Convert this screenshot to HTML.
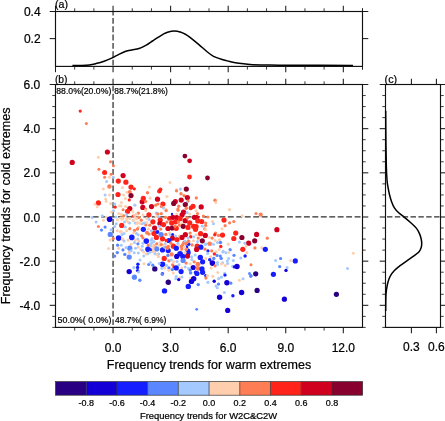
<!DOCTYPE html>
<html><head><meta charset="utf-8"><style>
html,body{margin:0;padding:0;background:#fff;}
svg{display:block;filter:blur(0.3px);}
text{font-family:"Liberation Sans",sans-serif;fill:#000;stroke:#000;stroke-width:0.22px;}
</style></head><body>
<svg width="445" height="421" viewBox="0 0 445 421">
<rect width="445" height="421" fill="#fff"/>
<line x1="113.06" y1="11.50" x2="113.06" y2="66.40" stroke="#2e2e2e" stroke-width="1.25" stroke-dasharray="5.9 2.45" stroke-dashoffset="1.95"/>
<line x1="113.06" y1="84.50" x2="113.06" y2="327.40" stroke="#2e2e2e" stroke-width="1.25" stroke-dasharray="5.9 2.45" stroke-dashoffset="-0.9"/>
<line x1="55.50" y1="216.99" x2="362.50" y2="216.99" stroke="#2e2e2e" stroke-width="1.25" stroke-dasharray="5.9 2.55" stroke-dashoffset="5.08"/>
<line x1="385.50" y1="216.99" x2="440.50" y2="216.99" stroke="#2e2e2e" stroke-width="1.25" stroke-dasharray="5.4 2.45" stroke-dashoffset="-1.5"/>
<circle cx="80.2" cy="111.1" r="1.60" fill="#ff2319"/>
<circle cx="86.4" cy="123.5" r="1.50" fill="#ff7d55"/>
<circle cx="107.4" cy="152.0" r="2.60" fill="#d0001f"/>
<circle cx="184.9" cy="156.1" r="2.40" fill="#88002d"/>
<circle cx="189.6" cy="160.8" r="2.40" fill="#d0001f"/>
<circle cx="189.5" cy="177.0" r="2.40" fill="#ff2319"/>
<circle cx="207.5" cy="178.0" r="2.40" fill="#88002d"/>
<circle cx="170.0" cy="182.4" r="1.50" fill="#ffcfad"/>
<circle cx="98.4" cy="157.3" r="1.50" fill="#ffcfad"/>
<circle cx="110.5" cy="161.8" r="1.50" fill="#ff7d55"/>
<circle cx="113.5" cy="165.7" r="1.50" fill="#ff7d55"/>
<circle cx="98.9" cy="169.3" r="1.50" fill="#ff7d55"/>
<circle cx="104.6" cy="172.5" r="2.50" fill="#ff2319"/>
<circle cx="111.1" cy="174.2" r="1.50" fill="#ff7d55"/>
<circle cx="104.6" cy="177.2" r="1.50" fill="#ff7d55"/>
<circle cx="109.4" cy="177.3" r="1.50" fill="#ffcfad"/>
<circle cx="113.3" cy="177.2" r="1.50" fill="#a3c9ff"/>
<circle cx="123.1" cy="175.6" r="2.60" fill="#d0001f"/>
<circle cx="106.6" cy="181.5" r="1.50" fill="#a3c9ff"/>
<circle cx="118.3" cy="181.1" r="2.60" fill="#ff2319"/>
<circle cx="125.9" cy="182.2" r="2.60" fill="#ff2319"/>
<circle cx="109.4" cy="186.5" r="2.20" fill="#ff7d55"/>
<circle cx="122.5" cy="187.6" r="1.50" fill="#ffcfad"/>
<circle cx="131.0" cy="187.1" r="2.60" fill="#ff2319"/>
<circle cx="134.3" cy="188.8" r="1.60" fill="#ff2319"/>
<circle cx="103.4" cy="189.1" r="1.50" fill="#ffcfad"/>
<circle cx="72.2" cy="162.4" r="2.60" fill="#d0001f"/>
<circle cx="149.3" cy="187.1" r="1.50" fill="#ffcfad"/>
<circle cx="160.4" cy="189.6" r="2.00" fill="#ff2319"/>
<circle cx="176.5" cy="189.6" r="1.30" fill="#ffcfad"/>
<circle cx="180.4" cy="189.1" r="1.60" fill="#a3c9ff"/>
<circle cx="186.3" cy="189.1" r="2.60" fill="#88002d"/>
<circle cx="105.1" cy="195.1" r="1.50" fill="#a3c9ff"/>
<circle cx="109.4" cy="195.1" r="1.50" fill="#ffcfad"/>
<circle cx="118.0" cy="194.5" r="2.60" fill="#ff2319"/>
<circle cx="127.0" cy="192.2" r="1.50" fill="#ffcfad"/>
<circle cx="129.8" cy="192.0" r="2.00" fill="#ff7d55"/>
<circle cx="131.0" cy="195.6" r="2.60" fill="#88002d"/>
<circle cx="123.7" cy="195.1" r="1.50" fill="#ffcfad"/>
<circle cx="125.3" cy="198.4" r="1.50" fill="#ffcfad"/>
<circle cx="129.3" cy="199.9" r="1.60" fill="#ff2319"/>
<circle cx="105.7" cy="199.0" r="1.50" fill="#ffcfad"/>
<circle cx="106.2" cy="201.2" r="1.50" fill="#ffcfad"/>
<circle cx="98.4" cy="202.9" r="2.60" fill="#ff2319"/>
<circle cx="110.7" cy="203.5" r="1.50" fill="#ffcfad"/>
<circle cx="114.7" cy="204.0" r="1.50" fill="#a3c9ff"/>
<circle cx="121.4" cy="202.4" r="1.50" fill="#ffcfad"/>
<circle cx="119.7" cy="205.7" r="1.50" fill="#ffcfad"/>
<circle cx="115.2" cy="207.1" r="1.60" fill="#ff2319"/>
<circle cx="97.2" cy="206.9" r="1.40" fill="#ffcfad"/>
<circle cx="134.9" cy="205.2" r="1.60" fill="#a3c9ff"/>
<circle cx="129.8" cy="208.5" r="2.60" fill="#d0001f"/>
<circle cx="127.6" cy="211.3" r="2.60" fill="#ff2319"/>
<circle cx="142.2" cy="201.8" r="2.60" fill="#d0001f"/>
<circle cx="142.8" cy="207.4" r="2.60" fill="#d0001f"/>
<circle cx="143.3" cy="198.4" r="2.60" fill="#ff2319"/>
<circle cx="123.1" cy="209.7" r="1.50" fill="#ff7d55"/>
<circle cx="113.5" cy="210.8" r="1.50" fill="#a3c9ff"/>
<circle cx="118.6" cy="213.6" r="1.50" fill="#ffcfad"/>
<circle cx="122.5" cy="215.3" r="1.50" fill="#ffcfad"/>
<circle cx="123.7" cy="215.8" r="1.50" fill="#ff7d55"/>
<circle cx="133.2" cy="216.1" r="1.60" fill="#ff2319"/>
<circle cx="137.7" cy="213.6" r="1.50" fill="#a3c9ff"/>
<circle cx="135.4" cy="217.5" r="1.50" fill="#ffcfad"/>
<circle cx="138.8" cy="217.0" r="1.50" fill="#ffcfad"/>
<circle cx="102.3" cy="215.8" r="1.50" fill="#a3c9ff"/>
<circle cx="106.2" cy="217.0" r="1.50" fill="#ffcfad"/>
<circle cx="109.6" cy="219.2" r="2.80" fill="#1400d6"/>
<circle cx="115.8" cy="217.0" r="1.50" fill="#a3c9ff"/>
<circle cx="117.5" cy="219.8" r="1.50" fill="#ffcfad"/>
<circle cx="122.0" cy="219.2" r="1.50" fill="#ffcfad"/>
<circle cx="126.5" cy="219.8" r="1.50" fill="#ffcfad"/>
<circle cx="103.4" cy="220.3" r="1.50" fill="#ffcfad"/>
<circle cx="96.1" cy="222.0" r="1.50" fill="#a3c9ff"/>
<circle cx="128.7" cy="222.6" r="1.50" fill="#ffcfad"/>
<circle cx="133.2" cy="220.3" r="1.50" fill="#a3c9ff"/>
<circle cx="137.7" cy="222.6" r="1.50" fill="#ffcfad"/>
<circle cx="121.7" cy="225.4" r="2.60" fill="#ff2319"/>
<circle cx="116.3" cy="223.7" r="1.50" fill="#a3c9ff"/>
<circle cx="114.7" cy="226.5" r="1.50" fill="#a3c9ff"/>
<circle cx="98.4" cy="226.5" r="1.50" fill="#ff7d55"/>
<circle cx="105.1" cy="227.1" r="1.60" fill="#5a87ff"/>
<circle cx="125.3" cy="227.1" r="1.50" fill="#a3c9ff"/>
<circle cx="138.3" cy="227.1" r="1.50" fill="#ffcfad"/>
<circle cx="143.3" cy="229.3" r="2.60" fill="#141eff"/>
<circle cx="142.2" cy="223.7" r="1.50" fill="#a3c9ff"/>
<circle cx="95.0" cy="204.3" r="1.40" fill="#ffcfad"/>
<circle cx="92.2" cy="217.6" r="1.50" fill="#a3c9ff"/>
<circle cx="159.3" cy="191.3" r="2.20" fill="#ff2319"/>
<circle cx="147.5" cy="192.8" r="1.70" fill="#ff7d55"/>
<circle cx="166.9" cy="196.5" r="1.60" fill="#ffcfad"/>
<circle cx="150.1" cy="198.1" r="1.60" fill="#ffcfad"/>
<circle cx="157.5" cy="199.2" r="2.60" fill="#d0001f"/>
<circle cx="145.8" cy="201.5" r="1.60" fill="#ff7d55"/>
<circle cx="162.9" cy="204.0" r="2.60" fill="#ff2319"/>
<circle cx="157.9" cy="204.0" r="1.60" fill="#ff7d55"/>
<circle cx="155.7" cy="205.2" r="1.60" fill="#ff7d55"/>
<circle cx="151.5" cy="206.6" r="2.60" fill="#d0001f"/>
<circle cx="163.5" cy="207.9" r="1.60" fill="#a3c9ff"/>
<circle cx="161.3" cy="206.6" r="1.50" fill="#ff7d55"/>
<circle cx="166.1" cy="209.4" r="1.50" fill="#ffcfad"/>
<circle cx="145.6" cy="209.1" r="1.50" fill="#ff7d55"/>
<circle cx="176.5" cy="190.8" r="1.60" fill="#ff7d55"/>
<circle cx="181.0" cy="193.8" r="1.70" fill="#ff7d55"/>
<circle cx="184.0" cy="195.6" r="1.60" fill="#ff7d55"/>
<circle cx="187.4" cy="197.6" r="2.60" fill="#d0001f"/>
<circle cx="181.2" cy="200.1" r="2.60" fill="#d0001f"/>
<circle cx="175.3" cy="201.5" r="2.60" fill="#d0001f"/>
<circle cx="173.7" cy="203.4" r="2.60" fill="#88002d"/>
<circle cx="188.0" cy="201.0" r="1.60" fill="#ff7d55"/>
<circle cx="186.9" cy="202.6" r="1.50" fill="#a3c9ff"/>
<circle cx="185.3" cy="204.6" r="2.60" fill="#88002d"/>
<circle cx="178.7" cy="206.3" r="1.70" fill="#ff7d55"/>
<circle cx="177.9" cy="209.1" r="1.60" fill="#ff7d55"/>
<circle cx="186.3" cy="208.3" r="1.70" fill="#ff7d55"/>
<circle cx="193.0" cy="206.3" r="2.60" fill="#ff2319"/>
<circle cx="190.8" cy="208.0" r="2.20" fill="#ff2319"/>
<circle cx="145.6" cy="210.6" r="1.50" fill="#ffcfad"/>
<circle cx="166.1" cy="210.6" r="1.70" fill="#ff7d55"/>
<circle cx="148.9" cy="214.8" r="2.60" fill="#ff2319"/>
<circle cx="156.2" cy="213.1" r="1.50" fill="#a3c9ff"/>
<circle cx="157.8" cy="213.9" r="1.60" fill="#ff7d55"/>
<circle cx="161.3" cy="213.7" r="1.60" fill="#ff7d55"/>
<circle cx="156.0" cy="216.7" r="1.50" fill="#ffcfad"/>
<circle cx="158.5" cy="216.7" r="1.50" fill="#a3c9ff"/>
<circle cx="165.5" cy="217.3" r="1.60" fill="#ff7d55"/>
<circle cx="169.4" cy="218.4" r="2.40" fill="#ff2319"/>
<circle cx="148.9" cy="219.3" r="1.60" fill="#a3c9ff"/>
<circle cx="146.7" cy="218.4" r="1.50" fill="#ffcfad"/>
<circle cx="152.9" cy="221.8" r="2.60" fill="#ff2319"/>
<circle cx="160.2" cy="220.1" r="2.60" fill="#ff2319"/>
<circle cx="159.9" cy="223.5" r="2.60" fill="#d0001f"/>
<circle cx="163.5" cy="224.6" r="2.60" fill="#ff2319"/>
<circle cx="145.8" cy="224.9" r="1.60" fill="#ff7d55"/>
<circle cx="149.8" cy="225.2" r="1.60" fill="#ff7d55"/>
<circle cx="146.7" cy="222.4" r="1.50" fill="#ffcfad"/>
<circle cx="154.6" cy="228.0" r="2.60" fill="#d0001f"/>
<circle cx="159.3" cy="226.3" r="1.50" fill="#a3c9ff"/>
<circle cx="168.0" cy="228.5" r="2.60" fill="#d0001f"/>
<circle cx="166.9" cy="222.1" r="1.60" fill="#ff7d55"/>
<circle cx="148.4" cy="229.1" r="1.50" fill="#ffcfad"/>
<circle cx="160.7" cy="229.1" r="1.60" fill="#ff7d55"/>
<circle cx="178.1" cy="210.3" r="1.60" fill="#ff7d55"/>
<circle cx="172.0" cy="213.9" r="1.20" fill="#141eff"/>
<circle cx="176.7" cy="213.9" r="1.50" fill="#ffcfad"/>
<circle cx="183.5" cy="212.2" r="2.60" fill="#d0001f"/>
<circle cx="182.1" cy="214.8" r="2.60" fill="#d0001f"/>
<circle cx="187.1" cy="212.5" r="1.50" fill="#a3c9ff"/>
<circle cx="189.7" cy="213.9" r="1.50" fill="#ffcfad"/>
<circle cx="172.8" cy="217.3" r="2.60" fill="#d0001f"/>
<circle cx="176.7" cy="217.6" r="2.60" fill="#d0001f"/>
<circle cx="180.1" cy="218.7" r="2.60" fill="#ff2319"/>
<circle cx="185.2" cy="220.7" r="2.60" fill="#d0001f"/>
<circle cx="187.4" cy="217.9" r="1.60" fill="#ff7d55"/>
<circle cx="171.7" cy="222.9" r="2.60" fill="#ff2319"/>
<circle cx="175.6" cy="221.8" r="2.60" fill="#ff2319"/>
<circle cx="178.4" cy="222.1" r="1.70" fill="#ff7d55"/>
<circle cx="189.7" cy="222.9" r="2.60" fill="#ff2319"/>
<circle cx="181.8" cy="223.5" r="1.50" fill="#ffcfad"/>
<circle cx="183.2" cy="226.3" r="2.60" fill="#88002d"/>
<circle cx="172.2" cy="228.0" r="2.60" fill="#88002d"/>
<circle cx="176.2" cy="228.3" r="2.60" fill="#ff2319"/>
<circle cx="188.0" cy="227.4" r="2.60" fill="#ff2319"/>
<circle cx="175.1" cy="226.3" r="1.60" fill="#ff7d55"/>
<circle cx="193.6" cy="226.3" r="2.60" fill="#ff2319"/>
<circle cx="179.3" cy="225.2" r="1.60" fill="#ff7d55"/>
<circle cx="194.4" cy="217.3" r="2.60" fill="#d0001f"/>
<circle cx="196.3" cy="197.9" r="1.60" fill="#ff7d55"/>
<circle cx="215.0" cy="200.3" r="1.70" fill="#ff7d55"/>
<circle cx="215.8" cy="202.4" r="1.50" fill="#ffcfad"/>
<circle cx="201.2" cy="206.9" r="2.60" fill="#d0001f"/>
<circle cx="196.1" cy="210.8" r="1.50" fill="#ffcfad"/>
<circle cx="197.5" cy="213.6" r="1.60" fill="#ff7d55"/>
<circle cx="229.6" cy="209.7" r="1.60" fill="#ffcfad"/>
<circle cx="196.7" cy="217.5" r="2.60" fill="#d0001f"/>
<circle cx="203.4" cy="216.1" r="1.60" fill="#ff7d55"/>
<circle cx="207.9" cy="217.0" r="1.60" fill="#ff7d55"/>
<circle cx="224.0" cy="220.1" r="2.60" fill="#ff2319"/>
<circle cx="197.8" cy="220.9" r="2.60" fill="#ff2319"/>
<circle cx="201.7" cy="221.5" r="2.60" fill="#ff2319"/>
<circle cx="212.4" cy="221.5" r="1.50" fill="#ffcfad"/>
<circle cx="213.5" cy="223.7" r="1.50" fill="#a3c9ff"/>
<circle cx="229.6" cy="222.8" r="1.60" fill="#ff7d55"/>
<circle cx="233.8" cy="221.5" r="1.60" fill="#ff7d55"/>
<circle cx="205.7" cy="223.1" r="1.60" fill="#ff7d55"/>
<circle cx="205.7" cy="225.4" r="1.60" fill="#ff7d55"/>
<circle cx="202.3" cy="226.0" r="1.60" fill="#a3c9ff"/>
<circle cx="225.1" cy="225.7" r="1.60" fill="#ff7d55"/>
<circle cx="196.1" cy="226.5" r="2.60" fill="#ff2319"/>
<circle cx="242.2" cy="215.8" r="1.50" fill="#ffcfad"/>
<circle cx="222.0" cy="228.8" r="1.50" fill="#ffcfad"/>
<circle cx="204.6" cy="228.8" r="1.60" fill="#ff7d55"/>
<circle cx="256.0" cy="213.4" r="1.50" fill="#ff7d55"/>
<circle cx="260.7" cy="214.7" r="2.10" fill="#ff7d55"/>
<circle cx="295.3" cy="260.9" r="2.60" fill="#141eff"/>
<circle cx="290.7" cy="260.4" r="1.50" fill="#ffcfad"/>
<circle cx="353.3" cy="253.2" r="1.50" fill="#ffcfad"/>
<circle cx="347.5" cy="268.6" r="1.50" fill="#a3c9ff"/>
<circle cx="336.4" cy="294.3" r="2.60" fill="#2a0082"/>
<circle cx="276.9" cy="229.7" r="2.60" fill="#d0001f"/>
<circle cx="235.7" cy="233.1" r="2.60" fill="#ff2319"/>
<circle cx="233.8" cy="238.5" r="2.60" fill="#ff2319"/>
<circle cx="241.9" cy="237.5" r="2.60" fill="#88002d"/>
<circle cx="256.6" cy="234.4" r="2.60" fill="#d0001f"/>
<circle cx="267.3" cy="238.2" r="1.60" fill="#ff7d55"/>
<circle cx="254.7" cy="240.8" r="2.60" fill="#88002d"/>
<circle cx="248.6" cy="243.2" r="2.60" fill="#d0001f"/>
<circle cx="239.4" cy="241.9" r="1.50" fill="#a3c9ff"/>
<circle cx="244.8" cy="243.2" r="1.50" fill="#a3c9ff"/>
<circle cx="246.2" cy="245.9" r="1.50" fill="#ffcfad"/>
<circle cx="254.9" cy="247.9" r="1.60" fill="#ff7d55"/>
<circle cx="261.7" cy="247.7" r="1.50" fill="#ffcfad"/>
<circle cx="265.3" cy="249.3" r="2.60" fill="#141eff"/>
<circle cx="242.8" cy="249.3" r="2.60" fill="#ff2319"/>
<circle cx="230.7" cy="250.0" r="1.50" fill="#a3c9ff"/>
<circle cx="246.9" cy="252.6" r="1.50" fill="#ffcfad"/>
<circle cx="234.0" cy="255.3" r="1.60" fill="#5a87ff"/>
<circle cx="245.1" cy="256.0" r="1.70" fill="#141eff"/>
<circle cx="240.8" cy="258.0" r="1.50" fill="#a3c9ff"/>
<circle cx="280.6" cy="258.5" r="1.60" fill="#5a87ff"/>
<circle cx="275.6" cy="260.5" r="1.50" fill="#a3c9ff"/>
<circle cx="251.0" cy="264.8" r="1.50" fill="#ff7d55"/>
<circle cx="279.7" cy="266.6" r="1.60" fill="#5a87ff"/>
<circle cx="287.1" cy="267.5" r="1.50" fill="#a3c9ff"/>
<circle cx="286.0" cy="270.4" r="1.70" fill="#1400d6"/>
<circle cx="255.7" cy="273.8" r="2.60" fill="#2a0082"/>
<circle cx="251.0" cy="275.5" r="1.60" fill="#5a87ff"/>
<circle cx="273.4" cy="274.3" r="2.60" fill="#141eff"/>
<circle cx="257.1" cy="290.4" r="2.60" fill="#2a0082"/>
<circle cx="284.4" cy="299.2" r="2.60" fill="#1400d6"/>
<circle cx="101.5" cy="230.1" r="1.60" fill="#5a87ff"/>
<circle cx="110.2" cy="234.4" r="2.60" fill="#5a87ff"/>
<circle cx="113.3" cy="238.5" r="1.60" fill="#ff7d55"/>
<circle cx="110.2" cy="240.1" r="1.50" fill="#ffcfad"/>
<circle cx="118.6" cy="238.1" r="2.80" fill="#141eff"/>
<circle cx="122.6" cy="239.5" r="1.50" fill="#ffcfad"/>
<circle cx="117.3" cy="230.7" r="1.50" fill="#ffcfad"/>
<circle cx="120.6" cy="231.7" r="1.60" fill="#ffcfad"/>
<circle cx="122.0" cy="234.4" r="1.50" fill="#a3c9ff"/>
<circle cx="117.6" cy="245.2" r="1.60" fill="#5a87ff"/>
<circle cx="121.3" cy="245.2" r="1.50" fill="#a3c9ff"/>
<circle cx="108.5" cy="248.6" r="1.50" fill="#ffcfad"/>
<circle cx="118.6" cy="248.2" r="1.50" fill="#ffcfad"/>
<circle cx="123.0" cy="249.9" r="1.60" fill="#5a87ff"/>
<circle cx="111.2" cy="229.7" r="1.50" fill="#a3c9ff"/>
<circle cx="129.8" cy="228.7" r="1.60" fill="#ff7d55"/>
<circle cx="134.5" cy="230.4" r="1.70" fill="#ff7d55"/>
<circle cx="137.5" cy="229.0" r="1.70" fill="#ff7d55"/>
<circle cx="121.0" cy="231.7" r="1.60" fill="#ffcfad"/>
<circle cx="126.7" cy="230.7" r="1.50" fill="#ffcfad"/>
<circle cx="147.0" cy="232.7" r="2.00" fill="#ff7d55"/>
<circle cx="149.0" cy="234.1" r="1.70" fill="#ff7d55"/>
<circle cx="124.0" cy="233.4" r="1.50" fill="#a3c9ff"/>
<circle cx="133.8" cy="232.7" r="1.50" fill="#ffcfad"/>
<circle cx="136.5" cy="233.4" r="1.50" fill="#a3c9ff"/>
<circle cx="138.2" cy="234.7" r="1.50" fill="#a3c9ff"/>
<circle cx="131.8" cy="237.4" r="2.80" fill="#141eff"/>
<circle cx="141.6" cy="235.8" r="1.60" fill="#ff7d55"/>
<circle cx="142.9" cy="237.8" r="1.60" fill="#ff7d55"/>
<circle cx="122.7" cy="239.1" r="1.50" fill="#ffcfad"/>
<circle cx="128.1" cy="240.1" r="1.60" fill="#ffcfad"/>
<circle cx="124.0" cy="241.1" r="1.50" fill="#a3c9ff"/>
<circle cx="135.2" cy="240.1" r="1.50" fill="#ffcfad"/>
<circle cx="137.9" cy="239.1" r="1.50" fill="#a3c9ff"/>
<circle cx="138.9" cy="241.1" r="1.50" fill="#ffcfad"/>
<circle cx="146.3" cy="241.1" r="2.80" fill="#141eff"/>
<circle cx="134.5" cy="242.5" r="1.50" fill="#a3c9ff"/>
<circle cx="137.9" cy="243.8" r="1.60" fill="#5a87ff"/>
<circle cx="142.9" cy="243.2" r="1.50" fill="#a3c9ff"/>
<circle cx="131.1" cy="244.2" r="1.50" fill="#ffcfad"/>
<circle cx="148.3" cy="245.2" r="1.60" fill="#ff7d55"/>
<circle cx="129.8" cy="248.2" r="2.60" fill="#5a87ff"/>
<circle cx="126.1" cy="247.6" r="1.50" fill="#a3c9ff"/>
<circle cx="138.2" cy="247.2" r="1.50" fill="#ffcfad"/>
<circle cx="135.5" cy="248.2" r="1.50" fill="#a3c9ff"/>
<circle cx="148.0" cy="249.2" r="2.80" fill="#141eff"/>
<circle cx="142.3" cy="246.2" r="1.50" fill="#a3c9ff"/>
<circle cx="140.9" cy="249.6" r="1.50" fill="#ffcfad"/>
<circle cx="154.0" cy="233.4" r="2.60" fill="#ff2319"/>
<circle cx="157.4" cy="232.0" r="2.00" fill="#141eff"/>
<circle cx="161.1" cy="234.7" r="2.60" fill="#5a87ff"/>
<circle cx="165.8" cy="234.4" r="1.70" fill="#ff7d55"/>
<circle cx="156.4" cy="237.4" r="2.60" fill="#ff2319"/>
<circle cx="162.5" cy="238.8" r="2.60" fill="#ff2319"/>
<circle cx="169.6" cy="232.7" r="1.50" fill="#ffcfad"/>
<circle cx="170.2" cy="234.7" r="1.50" fill="#a3c9ff"/>
<circle cx="172.6" cy="234.4" r="1.50" fill="#141eff"/>
<circle cx="172.6" cy="238.1" r="2.60" fill="#d0001f"/>
<circle cx="177.0" cy="239.5" r="2.60" fill="#ff2319"/>
<circle cx="168.9" cy="240.5" r="2.60" fill="#141eff"/>
<circle cx="166.2" cy="240.5" r="1.70" fill="#ff2319"/>
<circle cx="151.3" cy="230.7" r="1.50" fill="#a3c9ff"/>
<circle cx="152.0" cy="238.8" r="1.50" fill="#a3c9ff"/>
<circle cx="152.7" cy="241.5" r="1.50" fill="#ffcfad"/>
<circle cx="156.7" cy="243.8" r="1.60" fill="#ff7d55"/>
<circle cx="160.1" cy="242.2" r="1.50" fill="#ffcfad"/>
<circle cx="162.1" cy="244.9" r="1.50" fill="#ffcfad"/>
<circle cx="165.2" cy="243.8" r="1.50" fill="#a3c9ff"/>
<circle cx="168.2" cy="246.5" r="1.80" fill="#ff7d55"/>
<circle cx="173.3" cy="246.2" r="2.60" fill="#ff2319"/>
<circle cx="170.9" cy="243.2" r="1.60" fill="#ff7d55"/>
<circle cx="176.3" cy="248.2" r="2.60" fill="#141eff"/>
<circle cx="156.7" cy="248.9" r="2.60" fill="#5a87ff"/>
<circle cx="162.5" cy="249.9" r="2.60" fill="#141eff"/>
<circle cx="168.2" cy="250.6" r="2.60" fill="#141eff"/>
<circle cx="150.7" cy="243.8" r="1.50" fill="#a3c9ff"/>
<circle cx="154.0" cy="245.9" r="1.60" fill="#ff7d55"/>
<circle cx="151.3" cy="249.6" r="1.60" fill="#141eff"/>
<circle cx="179.3" cy="236.1" r="1.50" fill="#ffcfad"/>
<circle cx="175.6" cy="236.1" r="1.50" fill="#a3c9ff"/>
<circle cx="195.5" cy="229.3" r="2.60" fill="#ff2319"/>
<circle cx="205.6" cy="229.7" r="1.60" fill="#ffcfad"/>
<circle cx="185.4" cy="234.7" r="2.60" fill="#d0001f"/>
<circle cx="182.0" cy="237.4" r="2.60" fill="#d0001f"/>
<circle cx="200.6" cy="233.7" r="2.60" fill="#ff2319"/>
<circle cx="205.3" cy="235.4" r="2.60" fill="#d0001f"/>
<circle cx="190.8" cy="236.8" r="1.80" fill="#ff2319"/>
<circle cx="193.8" cy="236.8" r="1.50" fill="#a3c9ff"/>
<circle cx="190.1" cy="233.1" r="1.60" fill="#ff7d55"/>
<circle cx="196.2" cy="234.7" r="1.50" fill="#ffcfad"/>
<circle cx="202.3" cy="240.8" r="2.60" fill="#88002d"/>
<circle cx="198.2" cy="238.1" r="1.60" fill="#ff7d55"/>
<circle cx="188.1" cy="238.1" r="1.50" fill="#a3c9ff"/>
<circle cx="193.5" cy="240.8" r="1.50" fill="#ffcfad"/>
<circle cx="184.0" cy="242.2" r="1.50" fill="#ffcfad"/>
<circle cx="186.1" cy="243.8" r="1.60" fill="#ff7d55"/>
<circle cx="189.4" cy="241.5" r="1.50" fill="#ffcfad"/>
<circle cx="197.5" cy="241.5" r="1.50" fill="#a3c9ff"/>
<circle cx="205.6" cy="244.2" r="1.80" fill="#a3c9ff"/>
<circle cx="208.7" cy="243.5" r="1.80" fill="#ffcfad"/>
<circle cx="188.8" cy="244.2" r="1.70" fill="#141eff"/>
<circle cx="186.7" cy="246.9" r="1.70" fill="#141eff"/>
<circle cx="182.0" cy="245.5" r="1.60" fill="#ff7d55"/>
<circle cx="197.2" cy="246.2" r="2.60" fill="#ff2319"/>
<circle cx="200.9" cy="247.2" r="2.60" fill="#141eff"/>
<circle cx="196.6" cy="249.4" r="2.60" fill="#d0001f"/>
<circle cx="192.1" cy="244.9" r="1.60" fill="#ff7d55"/>
<circle cx="181.3" cy="249.6" r="1.50" fill="#ffcfad"/>
<circle cx="188.4" cy="250.3" r="1.70" fill="#141eff"/>
<circle cx="186.1" cy="249.6" r="1.60" fill="#ff7d55"/>
<circle cx="205.0" cy="249.2" r="1.60" fill="#ff7d55"/>
<circle cx="208.0" cy="250.9" r="1.60" fill="#141eff"/>
<circle cx="215.5" cy="233.1" r="1.60" fill="#ff7d55"/>
<circle cx="214.8" cy="234.7" r="1.70" fill="#ff2319"/>
<circle cx="218.5" cy="235.4" r="1.70" fill="#ff7d55"/>
<circle cx="222.5" cy="235.1" r="2.60" fill="#ff2319"/>
<circle cx="212.1" cy="238.1" r="1.60" fill="#ff7d55"/>
<circle cx="209.7" cy="237.4" r="1.50" fill="#ffcfad"/>
<circle cx="215.1" cy="240.5" r="1.50" fill="#ffcfad"/>
<circle cx="219.5" cy="239.8" r="1.60" fill="#ffcfad"/>
<circle cx="209.7" cy="243.8" r="2.30" fill="#ff7d55"/>
<circle cx="217.5" cy="242.5" r="1.60" fill="#a3c9ff"/>
<circle cx="220.5" cy="242.5" r="1.70" fill="#5a87ff"/>
<circle cx="213.4" cy="244.2" r="1.50" fill="#a3c9ff"/>
<circle cx="220.8" cy="246.5" r="1.70" fill="#ff2319"/>
<circle cx="228.3" cy="244.2" r="1.60" fill="#ffcfad"/>
<circle cx="230.0" cy="249.6" r="1.50" fill="#5a87ff"/>
<circle cx="219.2" cy="249.6" r="1.50" fill="#ffcfad"/>
<circle cx="211.7" cy="250.9" r="1.60" fill="#ff7d55"/>
<circle cx="223.2" cy="251.3" r="1.50" fill="#a3c9ff"/>
<circle cx="117.3" cy="252.6" r="1.70" fill="#5a87ff"/>
<circle cx="114.6" cy="256.1" r="1.70" fill="#5a87ff"/>
<circle cx="124.8" cy="254.4" r="1.70" fill="#5a87ff"/>
<circle cx="129.2" cy="252.4" r="1.60" fill="#ffcfad"/>
<circle cx="131.2" cy="250.7" r="1.50" fill="#a3c9ff"/>
<circle cx="129.2" cy="257.1" r="2.60" fill="#5a87ff"/>
<circle cx="134.2" cy="252.7" r="1.50" fill="#a3c9ff"/>
<circle cx="138.3" cy="253.0" r="1.50" fill="#a3c9ff"/>
<circle cx="142.3" cy="250.3" r="1.50" fill="#a3c9ff"/>
<circle cx="143.7" cy="252.0" r="1.50" fill="#ffcfad"/>
<circle cx="143.7" cy="256.1" r="1.50" fill="#a3c9ff"/>
<circle cx="140.0" cy="260.1" r="1.50" fill="#a3c9ff"/>
<circle cx="144.0" cy="263.8" r="1.50" fill="#ffcfad"/>
<circle cx="137.9" cy="264.2" r="1.70" fill="#141eff"/>
<circle cx="133.9" cy="267.5" r="1.50" fill="#a3c9ff"/>
<circle cx="137.6" cy="267.5" r="1.70" fill="#141eff"/>
<circle cx="137.6" cy="270.6" r="1.70" fill="#141eff"/>
<circle cx="138.6" cy="271.9" r="1.50" fill="#a3c9ff"/>
<circle cx="129.2" cy="271.6" r="2.70" fill="#1400d6"/>
<circle cx="152.8" cy="251.7" r="1.50" fill="#ffcfad"/>
<circle cx="147.7" cy="253.7" r="1.60" fill="#a3c9ff"/>
<circle cx="155.1" cy="253.7" r="1.60" fill="#a3c9ff"/>
<circle cx="158.8" cy="254.0" r="1.50" fill="#ffcfad"/>
<circle cx="158.5" cy="256.7" r="1.50" fill="#ffcfad"/>
<circle cx="164.2" cy="258.4" r="2.60" fill="#ff2319"/>
<circle cx="167.9" cy="255.4" r="1.70" fill="#5a87ff"/>
<circle cx="171.6" cy="254.4" r="2.20" fill="#ff7d55"/>
<circle cx="168.9" cy="260.8" r="1.60" fill="#ff7d55"/>
<circle cx="171.3" cy="260.1" r="1.50" fill="#a3c9ff"/>
<circle cx="173.7" cy="261.8" r="1.50" fill="#ffcfad"/>
<circle cx="172.6" cy="264.8" r="1.60" fill="#ff7d55"/>
<circle cx="162.5" cy="264.2" r="2.80" fill="#141eff"/>
<circle cx="159.2" cy="263.5" r="1.50" fill="#a3c9ff"/>
<circle cx="166.6" cy="265.5" r="1.50" fill="#a3c9ff"/>
<circle cx="148.7" cy="264.5" r="1.60" fill="#5a87ff"/>
<circle cx="150.4" cy="262.5" r="1.50" fill="#a3c9ff"/>
<circle cx="152.8" cy="265.2" r="1.60" fill="#5a87ff"/>
<circle cx="154.8" cy="268.9" r="2.70" fill="#2a0082"/>
<circle cx="164.6" cy="267.9" r="1.60" fill="#ffcfad"/>
<circle cx="161.9" cy="268.2" r="1.50" fill="#a3c9ff"/>
<circle cx="168.9" cy="267.9" r="1.60" fill="#5a87ff"/>
<circle cx="172.3" cy="269.6" r="1.60" fill="#5a87ff"/>
<circle cx="168.9" cy="270.2" r="1.50" fill="#ffcfad"/>
<circle cx="174.0" cy="266.9" r="1.70" fill="#ff2319"/>
<circle cx="162.5" cy="273.6" r="1.60" fill="#141eff"/>
<circle cx="173.3" cy="272.9" r="1.50" fill="#ffcfad"/>
<circle cx="180.1" cy="253.7" r="2.80" fill="#141eff"/>
<circle cx="188.1" cy="252.7" r="2.60" fill="#141eff"/>
<circle cx="176.7" cy="256.4" r="2.60" fill="#1400d6"/>
<circle cx="182.8" cy="256.4" r="2.60" fill="#141eff"/>
<circle cx="187.5" cy="256.1" r="2.60" fill="#d0001f"/>
<circle cx="185.1" cy="252.4" r="1.50" fill="#ffcfad"/>
<circle cx="200.3" cy="257.4" r="2.70" fill="#141eff"/>
<circle cx="183.1" cy="260.5" r="2.60" fill="#5a87ff"/>
<circle cx="191.5" cy="256.7" r="1.50" fill="#a3c9ff"/>
<circle cx="195.2" cy="255.1" r="1.50" fill="#a3c9ff"/>
<circle cx="191.9" cy="259.4" r="1.50" fill="#a3c9ff"/>
<circle cx="186.1" cy="263.1" r="1.60" fill="#ff7d55"/>
<circle cx="190.2" cy="263.8" r="1.50" fill="#ffcfad"/>
<circle cx="194.2" cy="261.8" r="1.60" fill="#ff7d55"/>
<circle cx="197.9" cy="264.2" r="2.40" fill="#ff7d55"/>
<circle cx="202.6" cy="261.8" r="2.60" fill="#141eff"/>
<circle cx="176.3" cy="267.9" r="2.60" fill="#141eff"/>
<circle cx="179.0" cy="264.8" r="1.50" fill="#a3c9ff"/>
<circle cx="193.2" cy="267.5" r="2.60" fill="#1400d6"/>
<circle cx="197.9" cy="268.5" r="2.40" fill="#ff7d55"/>
<circle cx="185.1" cy="266.9" r="1.50" fill="#a3c9ff"/>
<circle cx="181.7" cy="267.9" r="1.50" fill="#ffcfad"/>
<circle cx="188.5" cy="268.5" r="1.50" fill="#a3c9ff"/>
<circle cx="190.2" cy="270.2" r="1.60" fill="#5a87ff"/>
<circle cx="181.1" cy="271.6" r="2.60" fill="#141eff"/>
<circle cx="202.0" cy="268.9" r="2.60" fill="#141eff"/>
<circle cx="202.6" cy="272.3" r="2.60" fill="#141eff"/>
<circle cx="195.6" cy="272.3" r="1.70" fill="#141eff"/>
<circle cx="177.0" cy="261.5" r="1.50" fill="#a3c9ff"/>
<circle cx="216.1" cy="251.7" r="1.50" fill="#ffcfad"/>
<circle cx="214.4" cy="253.9" r="1.70" fill="#ff2319"/>
<circle cx="207.7" cy="253.4" r="1.60" fill="#a3c9ff"/>
<circle cx="217.0" cy="255.4" r="1.60" fill="#5a87ff"/>
<circle cx="220.2" cy="256.1" r="1.70" fill="#5a87ff"/>
<circle cx="221.2" cy="258.4" r="1.70" fill="#5a87ff"/>
<circle cx="222.9" cy="252.0" r="1.50" fill="#a3c9ff"/>
<circle cx="225.9" cy="252.7" r="1.50" fill="#a3c9ff"/>
<circle cx="228.6" cy="252.4" r="1.50" fill="#ffcfad"/>
<circle cx="210.7" cy="256.7" r="1.50" fill="#ffcfad"/>
<circle cx="213.8" cy="258.4" r="1.70" fill="#5a87ff"/>
<circle cx="205.7" cy="258.4" r="1.50" fill="#ffcfad"/>
<circle cx="209.7" cy="259.8" r="1.70" fill="#141eff"/>
<circle cx="212.4" cy="263.1" r="2.80" fill="#1400d6"/>
<circle cx="217.5" cy="262.5" r="1.60" fill="#a3c9ff"/>
<circle cx="222.5" cy="262.8" r="1.50" fill="#a3c9ff"/>
<circle cx="221.5" cy="263.8" r="1.60" fill="#ffcfad"/>
<circle cx="228.6" cy="258.4" r="1.50" fill="#a3c9ff"/>
<circle cx="227.3" cy="261.1" r="1.50" fill="#a3c9ff"/>
<circle cx="227.6" cy="263.5" r="1.50" fill="#a3c9ff"/>
<circle cx="233.3" cy="260.5" r="1.60" fill="#a3c9ff"/>
<circle cx="215.1" cy="265.8" r="1.60" fill="#ff7d55"/>
<circle cx="217.5" cy="264.5" r="1.50" fill="#a3c9ff"/>
<circle cx="225.2" cy="265.5" r="1.60" fill="#ffcfad"/>
<circle cx="211.1" cy="267.9" r="1.50" fill="#ffcfad"/>
<circle cx="232.6" cy="266.2" r="1.50" fill="#a3c9ff"/>
<circle cx="234.3" cy="266.9" r="1.60" fill="#141eff"/>
<circle cx="217.8" cy="272.6" r="1.50" fill="#ffcfad"/>
<circle cx="224.6" cy="273.3" r="1.50" fill="#a3c9ff"/>
<circle cx="237.0" cy="266.5" r="2.70" fill="#1400d6"/>
<circle cx="249.5" cy="273.6" r="1.50" fill="#5a87ff"/>
<circle cx="134.4" cy="277.2" r="2.60" fill="#5a87ff"/>
<circle cx="139.8" cy="280.3" r="1.70" fill="#5a87ff"/>
<circle cx="162.3" cy="274.2" r="1.70" fill="#5a87ff"/>
<circle cx="164.5" cy="290.9" r="2.70" fill="#141eff"/>
<circle cx="176.2" cy="276.5" r="1.60" fill="#a3c9ff"/>
<circle cx="175.7" cy="278.7" r="1.50" fill="#a3c9ff"/>
<circle cx="179.6" cy="277.8" r="1.50" fill="#ffcfad"/>
<circle cx="182.0" cy="276.9" r="1.50" fill="#a3c9ff"/>
<circle cx="178.7" cy="279.6" r="1.70" fill="#1400d6"/>
<circle cx="168.3" cy="282.3" r="2.70" fill="#2a0082"/>
<circle cx="190.6" cy="272.9" r="1.70" fill="#5a87ff"/>
<circle cx="196.9" cy="273.5" r="2.60" fill="#141eff"/>
<circle cx="190.6" cy="278.3" r="1.40" fill="#ffcfad"/>
<circle cx="193.7" cy="278.7" r="2.70" fill="#1400d6"/>
<circle cx="191.5" cy="281.4" r="2.70" fill="#1400d6"/>
<circle cx="188.3" cy="286.4" r="2.70" fill="#141eff"/>
<circle cx="198.2" cy="284.6" r="1.70" fill="#5a87ff"/>
<circle cx="205.6" cy="275.6" r="1.50" fill="#141eff"/>
<circle cx="207.4" cy="275.6" r="1.60" fill="#ffcfad"/>
<circle cx="205.9" cy="278.1" r="1.60" fill="#ff7d55"/>
<circle cx="212.8" cy="276.3" r="1.60" fill="#ffcfad"/>
<circle cx="218.7" cy="278.7" r="1.60" fill="#a3c9ff"/>
<circle cx="221.4" cy="277.2" r="1.60" fill="#a3c9ff"/>
<circle cx="225.0" cy="275.1" r="1.70" fill="#141eff"/>
<circle cx="214.2" cy="281.2" r="1.70" fill="#1400d6"/>
<circle cx="207.9" cy="282.3" r="1.60" fill="#a3c9ff"/>
<circle cx="218.5" cy="284.1" r="1.70" fill="#5a87ff"/>
<circle cx="216.0" cy="285.9" r="1.50" fill="#a3c9ff"/>
<circle cx="217.3" cy="287.7" r="1.50" fill="#a3c9ff"/>
<circle cx="226.9" cy="282.8" r="2.70" fill="#1400d6"/>
<circle cx="230.8" cy="283.2" r="1.60" fill="#5a87ff"/>
<circle cx="224.3" cy="292.5" r="1.50" fill="#a3c9ff"/>
<circle cx="219.6" cy="297.3" r="2.70" fill="#1400d6"/>
<circle cx="232.9" cy="295.8" r="1.70" fill="#141eff"/>
<circle cx="250.8" cy="276.3" r="1.60" fill="#5a87ff"/>
<circle cx="239.4" cy="280.3" r="1.50" fill="#ffcfad"/>
<circle cx="243.0" cy="278.7" r="1.50" fill="#a3c9ff"/>
<circle cx="241.6" cy="292.5" r="2.70" fill="#1400d6"/>
<circle cx="196.7" cy="309.3" r="1.40" fill="#5a87ff"/>
<circle cx="227.7" cy="310.4" r="2.60" fill="#1400d6"/>
<circle cx="151.2" cy="240.2" r="1.50" fill="#a3c9ff"/>
<circle cx="152.3" cy="242.7" r="1.50" fill="#a3c9ff"/>
<circle cx="154.0" cy="241.6" r="1.50" fill="#a3c9ff"/>
<circle cx="150.6" cy="246.1" r="1.50" fill="#a3c9ff"/>
<circle cx="153.4" cy="246.1" r="1.50" fill="#ffcfad"/>
<circle cx="152.9" cy="248.4" r="1.50" fill="#ffcfad"/>
<circle cx="153.4" cy="251.2" r="1.50" fill="#ffcfad"/>
<circle cx="150.0" cy="252.3" r="1.50" fill="#a3c9ff"/>
<circle cx="159.6" cy="245.6" r="1.50" fill="#ffcfad"/>
<circle cx="161.3" cy="244.4" r="1.50" fill="#ff7d55"/>
<circle cx="164.1" cy="245.8" r="1.50" fill="#ffcfad"/>
<circle cx="164.7" cy="247.2" r="1.50" fill="#a3c9ff"/>
<circle cx="166.3" cy="247.2" r="1.50" fill="#ff7d55"/>
<circle cx="167.5" cy="248.4" r="1.50" fill="#ff7d55"/>
<circle cx="158.5" cy="254.0" r="1.50" fill="#a3c9ff"/>
<circle cx="156.8" cy="254.5" r="1.50" fill="#ffcfad"/>
<circle cx="146.1" cy="254.0" r="1.50" fill="#ffcfad"/>
<circle cx="181.2" cy="246.7" r="1.70" fill="#ff7d55"/>
<circle cx="182.9" cy="244.4" r="1.60" fill="#ff7d55"/>
<circle cx="181.8" cy="248.9" r="1.60" fill="#ff7d55"/>
<circle cx="184.0" cy="242.2" r="1.60" fill="#ff7d55"/>
<circle cx="184.6" cy="247.2" r="1.60" fill="#ffcfad"/>
<circle cx="186.3" cy="249.5" r="1.50" fill="#ff7d55"/>
<circle cx="178.4" cy="244.4" r="1.50" fill="#ffcfad"/>
<circle cx="177.9" cy="243.3" r="1.50" fill="#a3c9ff"/>
<circle cx="188.5" cy="241.1" r="1.60" fill="#ff7d55"/>
<circle cx="185.2" cy="241.1" r="1.50" fill="#a3c9ff"/>
<circle cx="186.9" cy="242.7" r="1.50" fill="#ff7d55"/>
<circle cx="121.1" cy="206.1" r="1.50" fill="#ffcfad"/>
<circle cx="125.6" cy="206.4" r="1.50" fill="#ffcfad"/>
<circle cx="132.9" cy="211.7" r="1.50" fill="#ffcfad"/>
<circle cx="138.5" cy="213.1" r="1.60" fill="#ff7d55"/>
<circle cx="136.3" cy="214.3" r="1.50" fill="#ffcfad"/>
<circle cx="134.3" cy="215.4" r="1.50" fill="#ffcfad"/>
<circle cx="126.7" cy="214.8" r="1.50" fill="#a3c9ff"/>
<circle cx="121.1" cy="214.6" r="1.50" fill="#ffcfad"/>
<circle cx="138.8" cy="217.6" r="1.60" fill="#ff7d55"/>
<circle cx="120.6" cy="217.9" r="1.50" fill="#ffcfad"/>
<circle cx="122.8" cy="218.5" r="1.50" fill="#ffcfad"/>
<circle cx="126.2" cy="219.0" r="1.50" fill="#ffcfad"/>
<circle cx="129.6" cy="218.5" r="1.50" fill="#ffcfad"/>
<circle cx="133.5" cy="220.2" r="1.50" fill="#ffcfad"/>
<circle cx="141.3" cy="220.2" r="1.60" fill="#ff7d55"/>
<circle cx="136.6" cy="219.0" r="1.50" fill="#ffcfad"/>
<circle cx="143.0" cy="215.1" r="1.50" fill="#ffcfad"/>
<circle cx="124.5" cy="221.9" r="1.50" fill="#a3c9ff"/>
<circle cx="129.6" cy="223.0" r="1.50" fill="#a3c9ff"/>
<circle cx="135.2" cy="223.0" r="1.50" fill="#a3c9ff"/>
<circle cx="136.9" cy="223.5" r="1.50" fill="#ffcfad"/>
<circle cx="127.3" cy="221.3" r="1.50" fill="#ffcfad"/>
<circle cx="140.2" cy="223.5" r="1.50" fill="#ffcfad"/>
<circle cx="144.2" cy="223.0" r="1.50" fill="#a3c9ff"/>
<circle cx="111.3" cy="212.0" r="1.50" fill="#ffcfad"/>
<line x1="74.69" y1="11.50" x2="74.69" y2="8.30" stroke="#1a1a1a" stroke-width="0.85" />
<line x1="74.69" y1="66.40" x2="74.69" y2="69.60" stroke="#1a1a1a" stroke-width="0.85" />
<line x1="74.69" y1="84.50" x2="74.69" y2="81.30" stroke="#1a1a1a" stroke-width="0.85" />
<line x1="74.69" y1="327.40" x2="74.69" y2="330.60" stroke="#1a1a1a" stroke-width="0.85" />
<line x1="93.88" y1="11.50" x2="93.88" y2="8.30" stroke="#1a1a1a" stroke-width="0.85" />
<line x1="93.88" y1="66.40" x2="93.88" y2="69.60" stroke="#1a1a1a" stroke-width="0.85" />
<line x1="93.88" y1="84.50" x2="93.88" y2="81.30" stroke="#1a1a1a" stroke-width="0.85" />
<line x1="93.88" y1="327.40" x2="93.88" y2="330.60" stroke="#1a1a1a" stroke-width="0.85" />
<line x1="113.06" y1="11.50" x2="113.06" y2="5.70" stroke="#1a1a1a" stroke-width="1.05" />
<line x1="113.06" y1="66.40" x2="113.06" y2="72.20" stroke="#1a1a1a" stroke-width="1.05" />
<line x1="113.06" y1="84.50" x2="113.06" y2="78.70" stroke="#1a1a1a" stroke-width="1.05" />
<line x1="113.06" y1="327.40" x2="113.06" y2="333.20" stroke="#1a1a1a" stroke-width="1.05" />
<line x1="132.25" y1="11.50" x2="132.25" y2="8.30" stroke="#1a1a1a" stroke-width="0.85" />
<line x1="132.25" y1="66.40" x2="132.25" y2="69.60" stroke="#1a1a1a" stroke-width="0.85" />
<line x1="132.25" y1="84.50" x2="132.25" y2="81.30" stroke="#1a1a1a" stroke-width="0.85" />
<line x1="132.25" y1="327.40" x2="132.25" y2="330.60" stroke="#1a1a1a" stroke-width="0.85" />
<line x1="151.44" y1="11.50" x2="151.44" y2="8.30" stroke="#1a1a1a" stroke-width="0.85" />
<line x1="151.44" y1="66.40" x2="151.44" y2="69.60" stroke="#1a1a1a" stroke-width="0.85" />
<line x1="151.44" y1="84.50" x2="151.44" y2="81.30" stroke="#1a1a1a" stroke-width="0.85" />
<line x1="151.44" y1="327.40" x2="151.44" y2="330.60" stroke="#1a1a1a" stroke-width="0.85" />
<line x1="170.62" y1="11.50" x2="170.62" y2="5.70" stroke="#1a1a1a" stroke-width="1.05" />
<line x1="170.62" y1="66.40" x2="170.62" y2="72.20" stroke="#1a1a1a" stroke-width="1.05" />
<line x1="170.62" y1="84.50" x2="170.62" y2="78.70" stroke="#1a1a1a" stroke-width="1.05" />
<line x1="170.62" y1="327.40" x2="170.62" y2="333.20" stroke="#1a1a1a" stroke-width="1.05" />
<line x1="189.81" y1="11.50" x2="189.81" y2="8.30" stroke="#1a1a1a" stroke-width="0.85" />
<line x1="189.81" y1="66.40" x2="189.81" y2="69.60" stroke="#1a1a1a" stroke-width="0.85" />
<line x1="189.81" y1="84.50" x2="189.81" y2="81.30" stroke="#1a1a1a" stroke-width="0.85" />
<line x1="189.81" y1="327.40" x2="189.81" y2="330.60" stroke="#1a1a1a" stroke-width="0.85" />
<line x1="209.00" y1="11.50" x2="209.00" y2="8.30" stroke="#1a1a1a" stroke-width="0.85" />
<line x1="209.00" y1="66.40" x2="209.00" y2="69.60" stroke="#1a1a1a" stroke-width="0.85" />
<line x1="209.00" y1="84.50" x2="209.00" y2="81.30" stroke="#1a1a1a" stroke-width="0.85" />
<line x1="209.00" y1="327.40" x2="209.00" y2="330.60" stroke="#1a1a1a" stroke-width="0.85" />
<line x1="228.19" y1="11.50" x2="228.19" y2="5.70" stroke="#1a1a1a" stroke-width="1.05" />
<line x1="228.19" y1="66.40" x2="228.19" y2="72.20" stroke="#1a1a1a" stroke-width="1.05" />
<line x1="228.19" y1="84.50" x2="228.19" y2="78.70" stroke="#1a1a1a" stroke-width="1.05" />
<line x1="228.19" y1="327.40" x2="228.19" y2="333.20" stroke="#1a1a1a" stroke-width="1.05" />
<line x1="247.38" y1="11.50" x2="247.38" y2="8.30" stroke="#1a1a1a" stroke-width="0.85" />
<line x1="247.38" y1="66.40" x2="247.38" y2="69.60" stroke="#1a1a1a" stroke-width="0.85" />
<line x1="247.38" y1="84.50" x2="247.38" y2="81.30" stroke="#1a1a1a" stroke-width="0.85" />
<line x1="247.38" y1="327.40" x2="247.38" y2="330.60" stroke="#1a1a1a" stroke-width="0.85" />
<line x1="266.56" y1="11.50" x2="266.56" y2="8.30" stroke="#1a1a1a" stroke-width="0.85" />
<line x1="266.56" y1="66.40" x2="266.56" y2="69.60" stroke="#1a1a1a" stroke-width="0.85" />
<line x1="266.56" y1="84.50" x2="266.56" y2="81.30" stroke="#1a1a1a" stroke-width="0.85" />
<line x1="266.56" y1="327.40" x2="266.56" y2="330.60" stroke="#1a1a1a" stroke-width="0.85" />
<line x1="285.75" y1="11.50" x2="285.75" y2="5.70" stroke="#1a1a1a" stroke-width="1.05" />
<line x1="285.75" y1="66.40" x2="285.75" y2="72.20" stroke="#1a1a1a" stroke-width="1.05" />
<line x1="285.75" y1="84.50" x2="285.75" y2="78.70" stroke="#1a1a1a" stroke-width="1.05" />
<line x1="285.75" y1="327.40" x2="285.75" y2="333.20" stroke="#1a1a1a" stroke-width="1.05" />
<line x1="304.94" y1="11.50" x2="304.94" y2="8.30" stroke="#1a1a1a" stroke-width="0.85" />
<line x1="304.94" y1="66.40" x2="304.94" y2="69.60" stroke="#1a1a1a" stroke-width="0.85" />
<line x1="304.94" y1="84.50" x2="304.94" y2="81.30" stroke="#1a1a1a" stroke-width="0.85" />
<line x1="304.94" y1="327.40" x2="304.94" y2="330.60" stroke="#1a1a1a" stroke-width="0.85" />
<line x1="324.12" y1="11.50" x2="324.12" y2="8.30" stroke="#1a1a1a" stroke-width="0.85" />
<line x1="324.12" y1="66.40" x2="324.12" y2="69.60" stroke="#1a1a1a" stroke-width="0.85" />
<line x1="324.12" y1="84.50" x2="324.12" y2="81.30" stroke="#1a1a1a" stroke-width="0.85" />
<line x1="324.12" y1="327.40" x2="324.12" y2="330.60" stroke="#1a1a1a" stroke-width="0.85" />
<line x1="343.31" y1="11.50" x2="343.31" y2="5.70" stroke="#1a1a1a" stroke-width="1.05" />
<line x1="343.31" y1="66.40" x2="343.31" y2="72.20" stroke="#1a1a1a" stroke-width="1.05" />
<line x1="343.31" y1="84.50" x2="343.31" y2="78.70" stroke="#1a1a1a" stroke-width="1.05" />
<line x1="343.31" y1="327.40" x2="343.31" y2="333.20" stroke="#1a1a1a" stroke-width="1.05" />
<line x1="362.50" y1="11.50" x2="362.50" y2="8.30" stroke="#1a1a1a" stroke-width="0.85" />
<line x1="362.50" y1="66.40" x2="362.50" y2="69.60" stroke="#1a1a1a" stroke-width="0.85" />
<line x1="55.50" y1="11.50" x2="55.50" y2="5.70" stroke="#1a1a1a" stroke-width="1.05" />
<line x1="55.50" y1="66.40" x2="55.50" y2="72.20" stroke="#1a1a1a" stroke-width="1.05" />
<line x1="362.50" y1="11.50" x2="362.50" y2="8.30" stroke="#1a1a1a" stroke-width="0.85" />
<line x1="362.50" y1="66.40" x2="362.50" y2="69.60" stroke="#1a1a1a" stroke-width="0.85" />
<line x1="55.50" y1="327.40" x2="52.30" y2="327.40" stroke="#1a1a1a" stroke-width="0.85" />
<line x1="362.50" y1="327.40" x2="365.70" y2="327.40" stroke="#1a1a1a" stroke-width="0.85" />
<line x1="385.50" y1="327.40" x2="382.30" y2="327.40" stroke="#1a1a1a" stroke-width="0.85" />
<line x1="440.50" y1="327.40" x2="443.70" y2="327.40" stroke="#1a1a1a" stroke-width="0.85" />
<line x1="55.50" y1="316.36" x2="52.30" y2="316.36" stroke="#1a1a1a" stroke-width="0.85" />
<line x1="362.50" y1="316.36" x2="365.70" y2="316.36" stroke="#1a1a1a" stroke-width="0.85" />
<line x1="385.50" y1="316.36" x2="382.30" y2="316.36" stroke="#1a1a1a" stroke-width="0.85" />
<line x1="440.50" y1="316.36" x2="443.70" y2="316.36" stroke="#1a1a1a" stroke-width="0.85" />
<line x1="55.50" y1="305.32" x2="49.70" y2="305.32" stroke="#1a1a1a" stroke-width="1.05" />
<line x1="362.50" y1="305.32" x2="368.30" y2="305.32" stroke="#1a1a1a" stroke-width="1.05" />
<line x1="385.50" y1="305.32" x2="379.70" y2="305.32" stroke="#1a1a1a" stroke-width="1.05" />
<line x1="440.50" y1="305.32" x2="446.30" y2="305.32" stroke="#1a1a1a" stroke-width="1.05" />
<line x1="55.50" y1="294.28" x2="52.30" y2="294.28" stroke="#1a1a1a" stroke-width="0.85" />
<line x1="362.50" y1="294.28" x2="365.70" y2="294.28" stroke="#1a1a1a" stroke-width="0.85" />
<line x1="385.50" y1="294.28" x2="382.30" y2="294.28" stroke="#1a1a1a" stroke-width="0.85" />
<line x1="440.50" y1="294.28" x2="443.70" y2="294.28" stroke="#1a1a1a" stroke-width="0.85" />
<line x1="55.50" y1="283.24" x2="52.30" y2="283.24" stroke="#1a1a1a" stroke-width="0.85" />
<line x1="362.50" y1="283.24" x2="365.70" y2="283.24" stroke="#1a1a1a" stroke-width="0.85" />
<line x1="385.50" y1="283.24" x2="382.30" y2="283.24" stroke="#1a1a1a" stroke-width="0.85" />
<line x1="440.50" y1="283.24" x2="443.70" y2="283.24" stroke="#1a1a1a" stroke-width="0.85" />
<line x1="55.50" y1="272.20" x2="52.30" y2="272.20" stroke="#1a1a1a" stroke-width="0.85" />
<line x1="362.50" y1="272.20" x2="365.70" y2="272.20" stroke="#1a1a1a" stroke-width="0.85" />
<line x1="385.50" y1="272.20" x2="382.30" y2="272.20" stroke="#1a1a1a" stroke-width="0.85" />
<line x1="440.50" y1="272.20" x2="443.70" y2="272.20" stroke="#1a1a1a" stroke-width="0.85" />
<line x1="55.50" y1="261.15" x2="49.70" y2="261.15" stroke="#1a1a1a" stroke-width="1.05" />
<line x1="362.50" y1="261.15" x2="368.30" y2="261.15" stroke="#1a1a1a" stroke-width="1.05" />
<line x1="385.50" y1="261.15" x2="379.70" y2="261.15" stroke="#1a1a1a" stroke-width="1.05" />
<line x1="440.50" y1="261.15" x2="446.30" y2="261.15" stroke="#1a1a1a" stroke-width="1.05" />
<line x1="55.50" y1="250.11" x2="52.30" y2="250.11" stroke="#1a1a1a" stroke-width="0.85" />
<line x1="362.50" y1="250.11" x2="365.70" y2="250.11" stroke="#1a1a1a" stroke-width="0.85" />
<line x1="385.50" y1="250.11" x2="382.30" y2="250.11" stroke="#1a1a1a" stroke-width="0.85" />
<line x1="440.50" y1="250.11" x2="443.70" y2="250.11" stroke="#1a1a1a" stroke-width="0.85" />
<line x1="55.50" y1="239.07" x2="52.30" y2="239.07" stroke="#1a1a1a" stroke-width="0.85" />
<line x1="362.50" y1="239.07" x2="365.70" y2="239.07" stroke="#1a1a1a" stroke-width="0.85" />
<line x1="385.50" y1="239.07" x2="382.30" y2="239.07" stroke="#1a1a1a" stroke-width="0.85" />
<line x1="440.50" y1="239.07" x2="443.70" y2="239.07" stroke="#1a1a1a" stroke-width="0.85" />
<line x1="55.50" y1="228.03" x2="52.30" y2="228.03" stroke="#1a1a1a" stroke-width="0.85" />
<line x1="362.50" y1="228.03" x2="365.70" y2="228.03" stroke="#1a1a1a" stroke-width="0.85" />
<line x1="385.50" y1="228.03" x2="382.30" y2="228.03" stroke="#1a1a1a" stroke-width="0.85" />
<line x1="440.50" y1="228.03" x2="443.70" y2="228.03" stroke="#1a1a1a" stroke-width="0.85" />
<line x1="55.50" y1="216.99" x2="49.70" y2="216.99" stroke="#1a1a1a" stroke-width="1.05" />
<line x1="362.50" y1="216.99" x2="368.30" y2="216.99" stroke="#1a1a1a" stroke-width="1.05" />
<line x1="385.50" y1="216.99" x2="379.70" y2="216.99" stroke="#1a1a1a" stroke-width="1.05" />
<line x1="440.50" y1="216.99" x2="446.30" y2="216.99" stroke="#1a1a1a" stroke-width="1.05" />
<line x1="55.50" y1="205.95" x2="52.30" y2="205.95" stroke="#1a1a1a" stroke-width="0.85" />
<line x1="362.50" y1="205.95" x2="365.70" y2="205.95" stroke="#1a1a1a" stroke-width="0.85" />
<line x1="385.50" y1="205.95" x2="382.30" y2="205.95" stroke="#1a1a1a" stroke-width="0.85" />
<line x1="440.50" y1="205.95" x2="443.70" y2="205.95" stroke="#1a1a1a" stroke-width="0.85" />
<line x1="55.50" y1="194.91" x2="52.30" y2="194.91" stroke="#1a1a1a" stroke-width="0.85" />
<line x1="362.50" y1="194.91" x2="365.70" y2="194.91" stroke="#1a1a1a" stroke-width="0.85" />
<line x1="385.50" y1="194.91" x2="382.30" y2="194.91" stroke="#1a1a1a" stroke-width="0.85" />
<line x1="440.50" y1="194.91" x2="443.70" y2="194.91" stroke="#1a1a1a" stroke-width="0.85" />
<line x1="55.50" y1="183.87" x2="52.30" y2="183.87" stroke="#1a1a1a" stroke-width="0.85" />
<line x1="362.50" y1="183.87" x2="365.70" y2="183.87" stroke="#1a1a1a" stroke-width="0.85" />
<line x1="385.50" y1="183.87" x2="382.30" y2="183.87" stroke="#1a1a1a" stroke-width="0.85" />
<line x1="440.50" y1="183.87" x2="443.70" y2="183.87" stroke="#1a1a1a" stroke-width="0.85" />
<line x1="55.50" y1="172.83" x2="49.70" y2="172.83" stroke="#1a1a1a" stroke-width="1.05" />
<line x1="362.50" y1="172.83" x2="368.30" y2="172.83" stroke="#1a1a1a" stroke-width="1.05" />
<line x1="385.50" y1="172.83" x2="379.70" y2="172.83" stroke="#1a1a1a" stroke-width="1.05" />
<line x1="440.50" y1="172.83" x2="446.30" y2="172.83" stroke="#1a1a1a" stroke-width="1.05" />
<line x1="55.50" y1="161.79" x2="52.30" y2="161.79" stroke="#1a1a1a" stroke-width="0.85" />
<line x1="362.50" y1="161.79" x2="365.70" y2="161.79" stroke="#1a1a1a" stroke-width="0.85" />
<line x1="385.50" y1="161.79" x2="382.30" y2="161.79" stroke="#1a1a1a" stroke-width="0.85" />
<line x1="440.50" y1="161.79" x2="443.70" y2="161.79" stroke="#1a1a1a" stroke-width="0.85" />
<line x1="55.50" y1="150.75" x2="52.30" y2="150.75" stroke="#1a1a1a" stroke-width="0.85" />
<line x1="362.50" y1="150.75" x2="365.70" y2="150.75" stroke="#1a1a1a" stroke-width="0.85" />
<line x1="385.50" y1="150.75" x2="382.30" y2="150.75" stroke="#1a1a1a" stroke-width="0.85" />
<line x1="440.50" y1="150.75" x2="443.70" y2="150.75" stroke="#1a1a1a" stroke-width="0.85" />
<line x1="55.50" y1="139.70" x2="52.30" y2="139.70" stroke="#1a1a1a" stroke-width="0.85" />
<line x1="362.50" y1="139.70" x2="365.70" y2="139.70" stroke="#1a1a1a" stroke-width="0.85" />
<line x1="385.50" y1="139.70" x2="382.30" y2="139.70" stroke="#1a1a1a" stroke-width="0.85" />
<line x1="440.50" y1="139.70" x2="443.70" y2="139.70" stroke="#1a1a1a" stroke-width="0.85" />
<line x1="55.50" y1="128.66" x2="49.70" y2="128.66" stroke="#1a1a1a" stroke-width="1.05" />
<line x1="362.50" y1="128.66" x2="368.30" y2="128.66" stroke="#1a1a1a" stroke-width="1.05" />
<line x1="385.50" y1="128.66" x2="379.70" y2="128.66" stroke="#1a1a1a" stroke-width="1.05" />
<line x1="440.50" y1="128.66" x2="446.30" y2="128.66" stroke="#1a1a1a" stroke-width="1.05" />
<line x1="55.50" y1="117.62" x2="52.30" y2="117.62" stroke="#1a1a1a" stroke-width="0.85" />
<line x1="362.50" y1="117.62" x2="365.70" y2="117.62" stroke="#1a1a1a" stroke-width="0.85" />
<line x1="385.50" y1="117.62" x2="382.30" y2="117.62" stroke="#1a1a1a" stroke-width="0.85" />
<line x1="440.50" y1="117.62" x2="443.70" y2="117.62" stroke="#1a1a1a" stroke-width="0.85" />
<line x1="55.50" y1="106.58" x2="52.30" y2="106.58" stroke="#1a1a1a" stroke-width="0.85" />
<line x1="362.50" y1="106.58" x2="365.70" y2="106.58" stroke="#1a1a1a" stroke-width="0.85" />
<line x1="385.50" y1="106.58" x2="382.30" y2="106.58" stroke="#1a1a1a" stroke-width="0.85" />
<line x1="440.50" y1="106.58" x2="443.70" y2="106.58" stroke="#1a1a1a" stroke-width="0.85" />
<line x1="55.50" y1="95.54" x2="52.30" y2="95.54" stroke="#1a1a1a" stroke-width="0.85" />
<line x1="362.50" y1="95.54" x2="365.70" y2="95.54" stroke="#1a1a1a" stroke-width="0.85" />
<line x1="385.50" y1="95.54" x2="382.30" y2="95.54" stroke="#1a1a1a" stroke-width="0.85" />
<line x1="440.50" y1="95.54" x2="443.70" y2="95.54" stroke="#1a1a1a" stroke-width="0.85" />
<line x1="55.50" y1="84.50" x2="49.70" y2="84.50" stroke="#1a1a1a" stroke-width="1.05" />
<line x1="362.50" y1="84.50" x2="368.30" y2="84.50" stroke="#1a1a1a" stroke-width="1.05" />
<line x1="385.50" y1="84.50" x2="379.70" y2="84.50" stroke="#1a1a1a" stroke-width="1.05" />
<line x1="440.50" y1="84.50" x2="446.30" y2="84.50" stroke="#1a1a1a" stroke-width="1.05" />
<line x1="55.50" y1="38.60" x2="49.70" y2="38.60" stroke="#1a1a1a" stroke-width="1.05" />
<line x1="362.50" y1="38.60" x2="368.30" y2="38.60" stroke="#1a1a1a" stroke-width="1.05" />
<line x1="55.50" y1="11.50" x2="49.70" y2="11.50" stroke="#1a1a1a" stroke-width="1.05" />
<line x1="362.50" y1="11.50" x2="368.30" y2="11.50" stroke="#1a1a1a" stroke-width="1.05" />
<line x1="411.40" y1="84.50" x2="411.40" y2="78.70" stroke="#1a1a1a" stroke-width="1.05" />
<line x1="411.40" y1="327.40" x2="411.40" y2="333.20" stroke="#1a1a1a" stroke-width="1.05" />
<line x1="436.40" y1="84.50" x2="436.40" y2="78.70" stroke="#1a1a1a" stroke-width="1.05" />
<line x1="436.40" y1="327.40" x2="436.40" y2="333.20" stroke="#1a1a1a" stroke-width="1.05" />
<rect x="55.5" y="11.5" width="307.00" height="54.90" fill="none" stroke="#111" stroke-width="1.15"/>
<rect x="55.5" y="84.5" width="307.00" height="242.90" fill="none" stroke="#111" stroke-width="1.15"/>
<rect x="385.5" y="84.5" width="55.00" height="242.90" fill="none" stroke="#111" stroke-width="1.15"/>
<path d="M72.40,65.50 C73.87,65.49 78.38,65.53 81.20,65.45 C84.02,65.37 86.83,65.31 89.30,65.00 C91.77,64.69 93.53,64.23 96.00,63.60 C98.47,62.97 101.40,62.15 104.10,61.20 C106.80,60.25 109.73,59.05 112.20,57.90 C114.67,56.75 116.63,55.40 118.90,54.30 C121.17,53.20 123.67,52.03 125.80,51.30 C127.93,50.57 129.50,50.37 131.70,49.90 C133.90,49.43 136.57,49.30 139.00,48.50 C141.43,47.70 144.05,46.35 146.30,45.10 C148.55,43.85 150.55,42.28 152.50,41.00 C154.45,39.72 156.25,38.52 158.00,37.40 C159.75,36.28 161.42,35.17 163.00,34.30 C164.58,33.43 165.63,32.77 167.50,32.20 C169.37,31.63 171.95,30.90 174.20,30.90 C176.45,30.90 179.03,31.58 181.00,32.20 C182.97,32.82 184.45,33.70 186.00,34.60 C187.55,35.50 188.15,35.93 190.30,37.60 C192.45,39.27 196.05,42.20 198.90,44.60 C201.75,47.00 204.97,50.05 207.40,52.00 C209.83,53.95 211.03,55.05 213.50,56.30 C215.97,57.55 219.62,58.67 222.20,59.50 C224.78,60.33 226.55,60.72 229.00,61.30 C231.45,61.88 233.40,62.48 236.90,63.00 C240.40,63.52 244.90,64.07 250.00,64.40 C255.10,64.73 260.83,64.85 267.50,65.00 C274.17,65.15 275.75,65.23 290.00,65.30 C304.25,65.37 342.50,65.38 353.00,65.40" fill="none" stroke="#000" stroke-width="1.5"/>
<path d="M385.70,110.70 C385.73,115.58 385.80,130.95 385.90,140.00 C386.00,149.05 386.12,158.33 386.30,165.00 C386.48,171.67 386.72,176.32 387.00,180.00 C387.28,183.68 387.60,184.73 388.00,187.10 C388.40,189.47 388.82,191.82 389.40,194.20 C389.98,196.58 390.67,199.13 391.50,201.40 C392.33,203.67 393.20,205.90 394.40,207.80 C395.60,209.70 397.03,211.22 398.70,212.80 C400.37,214.38 402.38,215.65 404.40,217.30 C406.42,218.95 408.78,220.85 410.80,222.70 C412.82,224.55 415.02,226.50 416.50,228.40 C417.98,230.30 418.90,232.25 419.70,234.10 C420.50,235.95 420.97,237.85 421.30,239.50 C421.63,241.15 421.72,242.67 421.70,244.00 C421.68,245.33 421.60,246.27 421.20,247.50 C420.80,248.73 420.45,250.05 419.30,251.40 C418.15,252.75 416.32,254.07 414.30,255.60 C412.28,257.13 409.57,258.93 407.20,260.60 C404.83,262.27 402.23,263.93 400.10,265.60 C397.97,267.27 396.07,268.82 394.40,270.60 C392.73,272.38 391.17,274.40 390.10,276.30 C389.03,278.20 388.58,279.87 388.00,282.00 C387.42,284.13 386.95,286.77 386.60,289.10 C386.25,291.43 386.05,292.35 385.90,296.00 C385.75,299.65 385.73,308.50 385.70,311.00" fill="none" stroke="#000" stroke-width="1.5"/>
<text x="40.60" y="43.20" font-size="12" text-anchor="end" >0.2</text>
<text x="40.60" y="16.10" font-size="12" text-anchor="end" >0.4</text>
<text x="40.30" y="89.10" font-size="12" text-anchor="end" >6.0</text>
<text x="40.30" y="133.26" font-size="12" text-anchor="end" >4.0</text>
<text x="40.30" y="177.43" font-size="12" text-anchor="end" >2.0</text>
<text x="40.30" y="221.59" font-size="12" text-anchor="end" >0.0</text>
<text x="40.30" y="265.75" font-size="12" text-anchor="end" >-2.0</text>
<text x="40.30" y="309.92" font-size="12" text-anchor="end" >-4.0</text>
<text x="113.06" y="351.60" font-size="12" text-anchor="middle" >0.0</text>
<text x="170.62" y="351.60" font-size="12" text-anchor="middle" >3.0</text>
<text x="228.19" y="351.60" font-size="12" text-anchor="middle" >6.0</text>
<text x="285.75" y="351.60" font-size="12" text-anchor="middle" >9.0</text>
<text x="343.31" y="351.60" font-size="12" text-anchor="middle" >12.0</text>
<text x="411.40" y="350.60" font-size="12" text-anchor="middle" >0.3</text>
<text x="436.40" y="350.60" font-size="12" text-anchor="middle" >0.6</text>
<text x="55.00" y="8.40" font-size="11" text-anchor="start" textLength="13.0" lengthAdjust="spacingAndGlyphs">(a)</text>
<text x="54.90" y="82.60" font-size="11.5" text-anchor="start" textLength="12.6" lengthAdjust="spacingAndGlyphs">(b)</text>
<text x="384.60" y="82.60" font-size="11.5" text-anchor="start" textLength="12.6" lengthAdjust="spacingAndGlyphs">(c)</text>
<text x="56.30" y="94.00" font-size="9.5" text-anchor="start" textLength="55.0" lengthAdjust="spacingAndGlyphs">88.0%(20.0%)</text>
<text x="114.30" y="94.00" font-size="9.5" text-anchor="start" textLength="53.6" lengthAdjust="spacingAndGlyphs">88.7%(21.8%)</text>
<text x="57.50" y="323.30" font-size="9.5" text-anchor="start" textLength="54.0" lengthAdjust="spacingAndGlyphs">50.0%( 0.0%)</text>
<text x="115.00" y="323.30" font-size="9.5" text-anchor="start" textLength="51.3" lengthAdjust="spacingAndGlyphs">48.7%( 6.9%)</text>
<text x="106.80" y="368.50" font-size="12.5" text-anchor="start" textLength="204.4" lengthAdjust="spacingAndGlyphs">Frequency trends for warm extremes</text>
<text x="0" y="0" font-size="12.5" text-anchor="middle" transform="translate(10.2,205.9) rotate(-90)">Frequency trends for cold extremes</text>
<rect x="55.50" y="381.6" width="30.76" height="13.60" fill="#2a0082"/>
<rect x="86.21" y="381.6" width="30.76" height="13.60" fill="#1400d6"/>
<rect x="116.92" y="381.6" width="30.76" height="13.60" fill="#141eff"/>
<rect x="147.63" y="381.6" width="30.76" height="13.60" fill="#5a87ff"/>
<rect x="178.34" y="381.6" width="30.76" height="13.60" fill="#a3c9ff"/>
<rect x="209.05" y="381.6" width="30.76" height="13.60" fill="#ffcfad"/>
<rect x="239.76" y="381.6" width="30.76" height="13.60" fill="#ff7d55"/>
<rect x="270.47" y="381.6" width="30.76" height="13.60" fill="#ff2319"/>
<rect x="301.18" y="381.6" width="30.76" height="13.60" fill="#d0001f"/>
<rect x="331.89" y="381.6" width="30.76" height="13.60" fill="#88002d"/>
<line x1="86.21" y1="381.60" x2="86.21" y2="395.20" stroke="#333" stroke-width="0.7" />
<line x1="116.92" y1="381.60" x2="116.92" y2="395.20" stroke="#333" stroke-width="0.7" />
<line x1="147.63" y1="381.60" x2="147.63" y2="395.20" stroke="#333" stroke-width="0.7" />
<line x1="178.34" y1="381.60" x2="178.34" y2="395.20" stroke="#333" stroke-width="0.7" />
<line x1="209.05" y1="381.60" x2="209.05" y2="395.20" stroke="#333" stroke-width="0.7" />
<line x1="239.76" y1="381.60" x2="239.76" y2="395.20" stroke="#333" stroke-width="0.7" />
<line x1="270.47" y1="381.60" x2="270.47" y2="395.20" stroke="#333" stroke-width="0.7" />
<line x1="301.18" y1="381.60" x2="301.18" y2="395.20" stroke="#333" stroke-width="0.7" />
<line x1="331.89" y1="381.60" x2="331.89" y2="395.20" stroke="#333" stroke-width="0.7" />
<rect x="55.5" y="381.6" width="307.10" height="13.60" fill="none" stroke="#333" stroke-width="0.7"/>
<text x="86.21" y="406.30" font-size="9" text-anchor="middle" >-0.8</text>
<text x="116.92" y="406.30" font-size="9" text-anchor="middle" >-0.6</text>
<text x="147.63" y="406.30" font-size="9" text-anchor="middle" >-0.4</text>
<text x="178.34" y="406.30" font-size="9" text-anchor="middle" >-0.2</text>
<text x="209.05" y="406.30" font-size="9" text-anchor="middle" >0.0</text>
<text x="239.76" y="406.30" font-size="9" text-anchor="middle" >0.2</text>
<text x="270.47" y="406.30" font-size="9" text-anchor="middle" >0.4</text>
<text x="301.18" y="406.30" font-size="9" text-anchor="middle" >0.6</text>
<text x="331.89" y="406.30" font-size="9" text-anchor="middle" >0.8</text>
<text x="139.90" y="418.50" font-size="9.3" text-anchor="start" textLength="137.3" lengthAdjust="spacingAndGlyphs">Frequency trends for W2C&amp;C2W</text>
</svg>
</body></html>
